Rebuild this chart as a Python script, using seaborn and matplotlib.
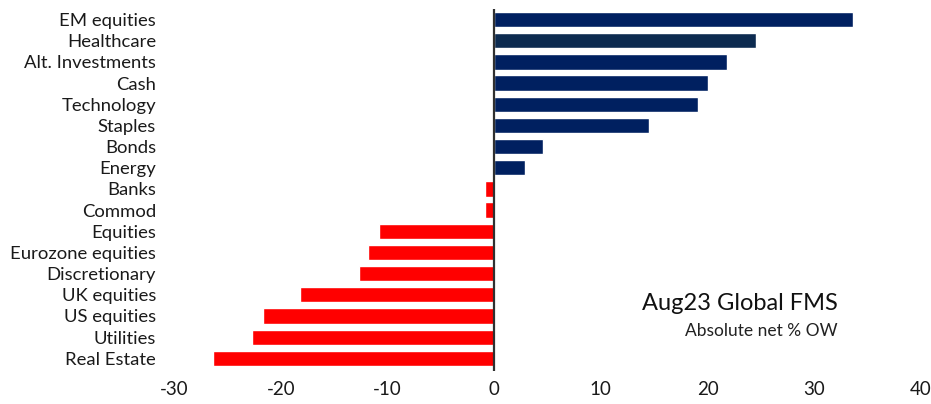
import matplotlib
matplotlib.use("Agg")
import matplotlib.pyplot as plt
import seaborn as sns
import pandas as pd

categories = ["EM equities", "Healthcare", "Alt. Investments", "Cash", "Technology",
              "Staples", "Bonds", "Energy", "Banks", "Commod", "Equities",
              "Eurozone equities", "Discretionary", "UK equities", "US equities",
              "Utilities", "Real Estate"]
values = [33.6, 24.5, 21.8, 20.0, 19.1, 14.5, 4.6, 2.9, -0.9, -0.9, -10.8,
          -11.8, -12.7, -18.2, -21.7, -22.7, -26.3]
x_ticks = [-30, -20, -10, 0, 10, 20, 30, 40]

NAVY = "#002060"
RED = "#FF0000"
colors = {c: (NAVY if v > 0 else RED) for c, v in zip(categories, values)}
colors["Healthcare"] = "#0D2B50"

sns.set_theme(style="white")
plt.rcParams["font.family"] = ["Lato", "DejaVu Sans"]

df = pd.DataFrame({"category": categories, "value": values})

fig = plt.figure(figsize=(9.31, 4.04), dpi=100)
ax = fig.add_axes([174 / 931, 1 - 371 / 404, (921 - 174) / 931, (371 - 9) / 404])

sns.barplot(data=df, x="value", y="category", hue="category", palette=colors,
            order=categories, hue_order=categories, legend=False, width=0.72,
            saturation=1, ax=ax)

ax.set_xlim(-30, 40)
ax.set_ylim(16.6, -0.5)
ax.set_xticks(x_ticks)
ax.set_xticklabels([str(t) for t in x_ticks])
ax.set_xlabel("")
ax.set_ylabel("")
for s in ax.spines.values():
    s.set_visible(False)
ax.axvline(0, color="#303030", lw=1.6, zorder=3)
ax.tick_params(axis="y", length=0, pad=13, labelsize=13.3, labelcolor="#1a1a1a")
ax.tick_params(axis="x", length=0, pad=7, labelsize=13.5, labelcolor="#1a1a1a")
ax.grid(False)

fig.text(838 / 931, 1 - 303 / 404, "Aug23 Global FMS", ha="right", va="center",
         fontsize=17, color="#111111")
fig.text(838 / 931, 1 - 331 / 404, "Absolute net % OW", ha="right", va="center",
         fontsize=12.5, color="#222222")

fig.savefig("out.png", dpi=100)
